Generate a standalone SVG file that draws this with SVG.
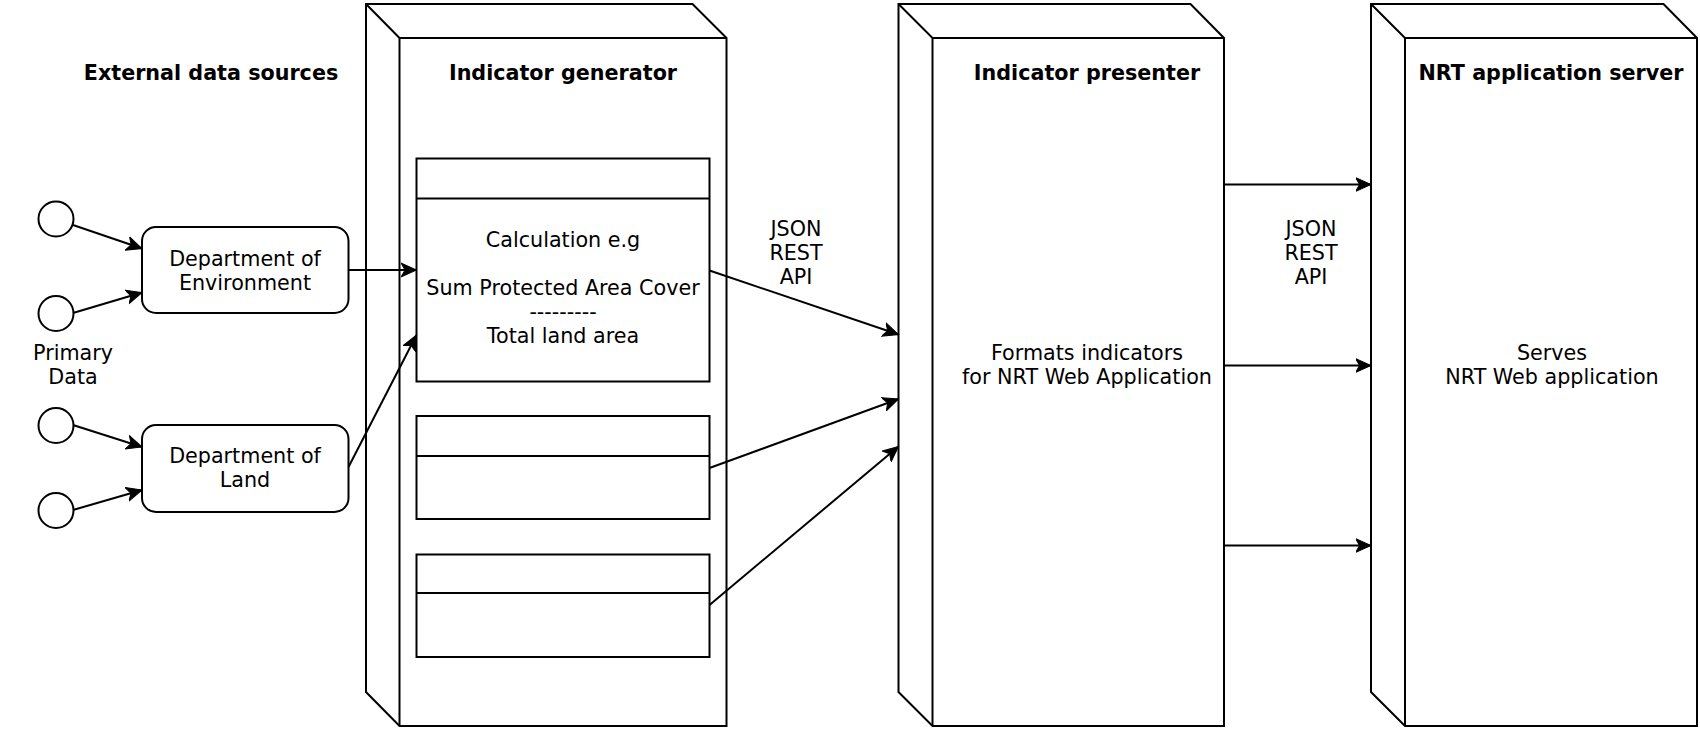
<svg xmlns="http://www.w3.org/2000/svg" width="1700" height="734" viewBox="0 0 1700 734">
<style>
.s{fill:#fff;stroke:#000;stroke-width:2;stroke-linejoin:miter}
.ln{fill:none;stroke:#000;stroke-width:2}
.t{font-family:"DejaVu Sans",sans-serif;font-size:20.7px;fill:#000;text-anchor:middle}
.b{font-family:"DejaVu Sans",sans-serif;font-size:20.7px;font-weight:bold;fill:#000;text-anchor:middle}
</style>
<defs>
<marker id="arr" markerUnits="userSpaceOnUse" markerWidth="17" markerHeight="16" viewBox="0 -8 17 16" refX="15.5" refY="0" orient="auto">
<path d="M0,-7 L15.5,0 L0,7 L4,0 Z" fill="#000" stroke="#000" stroke-width="1"/>
</marker>
</defs>
<rect width="1700" height="734" fill="#fff"/>

<g id="title-external">
<text class="b" x="211" y="80">External data sources</text>
</g>

<g id="node-generator">
<path class="s" d="M366,4 L692.5,4 L726.5,38 L726.5,726 L399.5,726 L366,692 Z"/>
<path class="ln" d="M366,4 L399.5,38 L726.5,38 M399.5,38 L399.5,726"/>
<text class="b" x="563" y="80">Indicator generator</text>
</g>

<g id="node-calc1">
<rect class="s" x="416.5" y="158.5" width="293" height="223"/>
<line class="ln" x1="416.5" y1="198.5" x2="709.5" y2="198.5"/>
<text class="t" x="563" y="247">Calculation e.g</text>
<text class="t" x="563" y="295">Sum Protected Area Cover</text>
<text class="t" x="563" y="319">---------</text>
<text class="t" x="563" y="343">Total land area</text>
</g>

<g id="node-calc2">
<rect class="s" x="416.5" y="416" width="293" height="103"/>
<line class="ln" x1="416.5" y1="456" x2="709.5" y2="456"/>
</g>

<g id="node-calc3">
<rect class="s" x="416.5" y="554.5" width="293" height="102.5"/>
<line class="ln" x1="416.5" y1="593" x2="709.5" y2="593"/>
</g>

<g id="node-presenter">
<path class="s" d="M898.5,4 L1190.5,4 L1224,38 L1224,726 L932.5,726 L898.5,692 Z"/>
<path class="ln" d="M898.5,4 L932.5,38 L1224,38 M932.5,38 L932.5,726"/>
<text class="b" x="1087" y="80">Indicator presenter</text>
<text class="t" x="1087" y="360">Formats indicators</text>
<text class="t" x="1087" y="384">for NRT Web Application</text>
</g>

<g id="node-server">
<path class="s" d="M1371,4 L1663.5,4 L1697,38 L1697,726 L1405,726 L1371,692 Z"/>
<path class="ln" d="M1371,4 L1405,38 L1697,38 M1405,38 L1405,726"/>
<text class="b" x="1551" y="80">NRT application server</text>
<text class="t" x="1552" y="360">Serves</text>
<text class="t" x="1552" y="384">NRT Web application</text>
</g>

<g id="node-env">
<rect class="s" x="142" y="227" width="206.5" height="86" rx="14" ry="14"/>
<text class="t" x="245" y="266">Department of</text>
<text class="t" x="245" y="290">Environment</text>
</g>

<g id="node-land">
<rect class="s" x="142" y="425" width="206.5" height="87" rx="14" ry="14"/>
<text class="t" x="245" y="463">Department of</text>
<text class="t" x="245" y="487">Land</text>
</g>

<g id="node-src1"><circle class="s" cx="56" cy="219" r="17.5"/></g>
<g id="node-src2"><circle class="s" cx="56" cy="313.5" r="17.5"/></g>
<g id="node-src3"><circle class="s" cx="56" cy="425.5" r="17.5"/></g>
<g id="node-src4"><circle class="s" cx="56" cy="510.5" r="17.5"/></g>

<g id="label-primary">
<text class="t" x="73" y="360">Primary</text>
<text class="t" x="73" y="384">Data</text>
</g>

<g id="connectors">
<line class="ln" x1="73" y1="225" x2="142" y2="248.5" marker-end="url(#arr)"/>
<line class="ln" x1="73" y1="313" x2="142" y2="292.5" marker-end="url(#arr)"/>
<line class="ln" x1="73" y1="425" x2="142" y2="447" marker-end="url(#arr)"/>
<line class="ln" x1="73" y1="510" x2="142" y2="490" marker-end="url(#arr)"/>
<line class="ln" x1="348.5" y1="270" x2="416.5" y2="270" marker-end="url(#arr)"/>
<line class="ln" x1="348.5" y1="467" x2="416.5" y2="335" marker-end="url(#arr)"/>
<line class="ln" x1="709.5" y1="270.5" x2="898.5" y2="334.5" marker-end="url(#arr)"/>
<line class="ln" x1="709.5" y1="468" x2="898.5" y2="399" marker-end="url(#arr)"/>
<line class="ln" x1="709.5" y1="605" x2="898.5" y2="446.5" marker-end="url(#arr)"/>
<line class="ln" x1="1224" y1="184.5" x2="1371" y2="184.5" marker-end="url(#arr)"/>
<line class="ln" x1="1224" y1="365.5" x2="1371" y2="365.5" marker-end="url(#arr)"/>
<line class="ln" x1="1224" y1="545.5" x2="1371" y2="545.5" marker-end="url(#arr)"/>
<text class="t" x="796" y="236">JSON</text>
<text class="t" x="796" y="260">REST</text>
<text class="t" x="796" y="284">API</text>
<text class="t" x="1311" y="236">JSON</text>
<text class="t" x="1311" y="260">REST</text>
<text class="t" x="1311" y="284">API</text>
</g>
</svg>
